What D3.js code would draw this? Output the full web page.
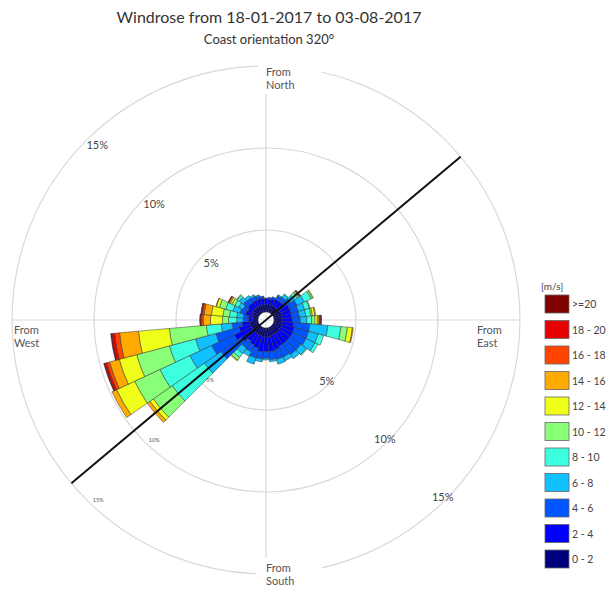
<!DOCTYPE html>
<html><head><meta charset="utf-8">
<script src="https://cdn.jsdelivr.net/npm/d3@7"></script>
<style>body{margin:0;background:#fff;} text{font-family:Lato,"Open Sans",sans-serif;}</style>
</head><body><svg id="c" width="615" height="589"></svg>
<script>
// ---------- DATA ----------
const title = "Windrose from 18-01-2017 to 03-08-2017";
const subtitle = "Coast orientation 320\u00B0";
const coastNormal = 50; // bearing of coast-orientation line (320 - 270)
const directions = d3.range(0, 360, 10);
const speedBins = ["0 - 2","2 - 4","4 - 6","6 - 8","8 - 10","10 - 12","12 - 14","14 - 16","16 - 18","18 - 20",">=20"];
const binColors = ["#00007f","#0000ff","#0055ff","#10c0ff","#3cffe0","#88ff77","#f0ff1a","#ffaa00","#ff4400","#e60000","#7f0000"];
const ringTicks = [5, 10, 15];
const unitLabel = "[m/s]";
// frequency (%) per direction (0,10,...,350) for each speed bin
const f0_2  = [.45,.45,.45,.45,.45,.45,.5,.5,.5,.5,.5,.5,.5,.5,.5,.5,.5,.55,.55,.55,.5,.5,.5,.5,.5,.5,.49,.3,.3,.4,.4,.45,.45,.45,.45,.45];
const f2_4  = [.35,.35,.40,.45,.45,.50,.60,.60,.60,.60,.70,.80,.80,.80,.80,.80,.90,.90,.90,.90,.80,.70,.60,.85,1.15,.72,.49,.30,.30,.40,.35,.40,.40,.40,.40,.40];
const f4_6  = [.05,.10,.13,.25,.30,.40,.50,.45,.45,.50,1.00,.90,.90,.80,.80,.70,.60,.50,.40,.45,.60,.45,.50,1.52,1.52,1.46,.61,.30,.30,.35,.30,.35,.30,.25,.20,.13];
const f6_8  = [0,0,0,.07,.20,.30,.50,.40,.40,.40,1.10,.60,.60,.40,.30,.26,.30,.12,.10,.17,.40,.30,.40,1.23,1.46,1.28,.67,.40,.40,.45,.30,.30,.19,.12,.05,0];
const f8_10 = [0,0,0,0,.06,.20,.45,.30,.30,.30,.80,.35,.20,.06,0,0,0,0,0,0,0,0,.30,2.40,2.02,1.65,.91,.50,.45,.45,.25,.15,0,0,0,0];
const f10_12= [0,0,0,0,0,.10,.10,.05,.10,.20,.40,0,0,0,0,0,0,0,0,0,0,0,.20,1.40,1.70,2.07,2.26,.37,.40,.40,.20,.05,0,0,0,0];
const f12_14= [0,0,0,0,0,.05,.05,0,.15,.15,.30,0,0,0,0,0,0,0,0,0,0,0,.06,.25,1.22,1.10,1.89,.73,.70,.20,.12,0,0,0,0,0];
const f14_16= [0,0,0,0,0,.04,0,0,.05,.10,.05,0,0,0,0,0,0,0,0,0,0,0,0,.20,.31,.61,1.16,.45,.45,.03,.08,0,0,0,0,0];
const f16_18= [0,0,0,0,0,.02,0,0,0,.05,0,0,0,0,0,0,0,0,0,0,0,0,0,0,0,.18,.30,.12,.12,0,.04,0,0,0,0,0];
const f18_20= [0,0,0,0,0,0,0,0,0,.05,0,0,0,0,0,0,0,0,0,0,0,0,0,0,0,.13,.18,.05,.05,0,.03,0,0,0,0,0];
const f20p  = [0,0,0,0,0,.03,0,0,0,.05,0,0,0,0,0,0,0,0,0,0,0,0,0,0,0,.06,.06,.03,.03,0,0,0,0,0,0,0];
const series = [f0_2,f2_4,f4_6,f6_8,f8_10,f10_12,f12_14,f14_16,f16_18,f18_20,f20p];

// ---------- DRAW ----------
const svg = d3.select("#c");
const cx = 266, cy = 320;
const r = d3.scaleLinear().domain([0, 15]).range([8, 254]);
const rad = d => d * Math.PI / 180;
const pt = (b, rr) => [cx + rr * Math.sin(rad(b)), cy - rr * Math.cos(rad(b))];

svg.append("text").attr("x", 269).attr("y", 23).attr("text-anchor","middle")
  .attr("font-size", 16).attr("fill","#333").text(title);
svg.append("text").attr("x", 269).attr("y", 44).attr("text-anchor","middle")
  .attr("font-size", 13).attr("fill","#333").text(subtitle);

const g = svg.append("g").attr("transform", `translate(${cx},${cy})`);
// grid
g.selectAll("circle.ring").data(ringTicks).join("circle").attr("class","ring")
  .attr("r", d => r(d)).attr("fill","none").attr("stroke","#d9d9d9").attr("stroke-width",1.2);
g.append("line").attr("x1",0).attr("x2",0).attr("y1",-r(15)+27).attr("y2",r(15)-16).attr("stroke","#d9d9d9").attr("stroke-width",1.2);
g.append("line").attr("x1",-r(15)).attr("x2",r(15)).attr("y1",0).attr("y2",0).attr("stroke","#d9d9d9").attr("stroke-width",1.2);

// wedges
const arc = d3.arc();
const wedges = [];
directions.forEach((dir, i) => {
  let cum = 0;
  series.forEach((s, j) => {
    const v = s[i];
    if (v > 0) {
      wedges.push({dir, j, inner: cum, outer: cum + v});
      cum += v;
    }
  });
});
g.selectAll("path.w").data(wedges).join("path").attr("class","w")
  .attr("d", d => arc({innerRadius: r(d.inner), outerRadius: r(d.outer),
      startAngle: rad(d.dir - 5), endAngle: rad(d.dir + 5)}))
  .attr("fill", d => binColors[d.j]).attr("stroke","#333").attr("stroke-width",0.5);

// coast orientation line
const p1 = pt(coastNormal, r(15)), p2 = pt(coastNormal + 180, r(15));
svg.append("line").attr("x1",p1[0]).attr("y1",p1[1]).attr("x2",p2[0]).attr("y2",p2[1])
  .attr("stroke","#111").attr("stroke-width",2);

// ring labels
ringTicks.forEach(t => {
  const a = pt(316, r(t) - 11);
  svg.append("text").attr("x", a[0]).attr("y", a[1] + 4).attr("text-anchor","middle")
    .attr("font-size", 11).attr("fill","#444").text(t + "%");
  const b = pt(135, r(t) - 4);
  svg.append("text").attr("x", b[0]).attr("y", b[1] + 4).attr("text-anchor","middle")
    .attr("font-size", 11).attr("fill","#444").text(t + "%");
  const c = pt(223, r(t) - 8);
  svg.append("text").attr("x", c[0]).attr("y", c[1] + 2).attr("text-anchor","middle")
    .attr("font-size", 5.5).attr("fill","#555").text(t + "%");
});

// direction labels
const dirLabels = [
  {t:"North", x:266, y:76, bx:258, by:60, bw:64, bh:34},
  {t:"West", x:14, y:334, bx:13, by:324, bw:0, bh:0},
  {t:"East", x:477, y:334, bx:476, by:324, bw:0, bh:0},
  {t:"South", x:266, y:572, bx:256, by:560, bw:66, bh:29}
];
dirLabels.forEach(d => {
  if (d.bw) svg.append("rect").attr("x", d.bx).attr("y", d.by).attr("width", d.bw).attr("height", d.bh).attr("fill","#fff");
  const tx = svg.append("text").attr("x", d.x).attr("y", d.y).attr("font-size", 11).attr("fill","#555");
  tx.append("tspan").attr("x", d.x).text("From");
  tx.append("tspan").attr("x", d.x).attr("dy", 13).text(d.t);
});

// legend
const lg = svg.append("g");
lg.append("text").attr("x", 541).attr("y", 290).attr("font-size", 10).attr("fill","#444").text(unitLabel);
const order = d3.range(speedBins.length).reverse();
const ly = d3.scaleBand().domain(order).range([295, 295 + 25.5 * order.length]);
order.forEach(j => {
  lg.append("rect").attr("x", 545).attr("y", ly(j)).attr("width", 24).attr("height", 18)
    .attr("fill", binColors[j]).attr("stroke","#666").attr("stroke-width",0.8);
  lg.append("text").attr("x", 572).attr("y", ly(j) + 13).attr("font-size", 10.5).attr("fill","#444").text(speedBins[j]);
});
</script></body></html>
